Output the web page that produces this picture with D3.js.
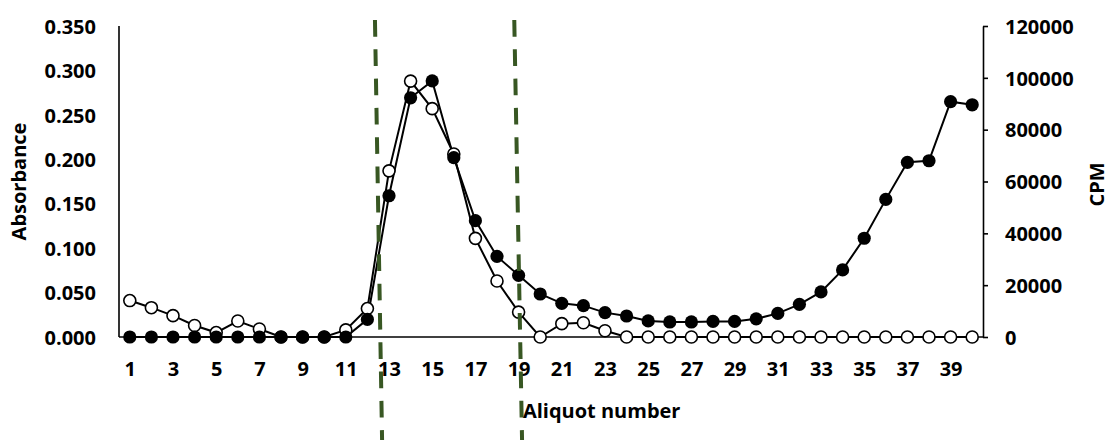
<!DOCTYPE html>
<html>
<head>
<meta charset="utf-8">
<script src="https://cdn.jsdelivr.net/npm/d3@7"></script>
<style>
  html, body { margin: 0; padding: 0; background: #fff; }
  svg text { font-family: "Open Sans", "Liberation Sans", sans-serif; font-weight: bold; fill: #000; }
</style>
</head>
<body>
<svg id="chart" width="1110" height="440"></svg>
<script>
// Aliquot numbers along the elution profile
const aliquots = [1, 2, 3, 4, 5, 6, 7, 8, 9, 10, 11, 12, 13, 14, 15, 16, 17, 18, 19, 20,
                  21, 22, 23, 24, 25, 26, 27, 28, 29, 30, 31, 32, 33, 34, 35, 36, 37, 38, 39, 40];

// Absorbance of each aliquot (open circles, left axis)
const absorbance = [0.041, 0.033, 0.024, 0.013, 0.005, 0.018, 0.009, 0.000, 0.000, 0.000,
                    0.008, 0.032, 0.187, 0.288, 0.257, 0.206, 0.111, 0.063, 0.028, 0.000,
                    0.015, 0.016, 0.007, 0.000, 0.000, 0.000, 0.000, 0.000, 0.000, 0.000,
                    0.000, 0.000, 0.000, 0.000, 0.000, 0.000, 0.000, 0.000, 0.000, 0.000];

// Radioactivity of each aliquot (filled circles, right axis)
const cpm = [0, 0, 0, 0, 0, 0, 0, 0, 0, 0,
             0, 6800, 54500, 92300, 98800, 69200, 44900, 31100, 23800, 16600,
             13000, 12100, 9400, 8100, 6200, 5800, 5800, 6000, 6000, 7000,
             9100, 12600, 17400, 25900, 38100, 53100, 67400, 68000, 90800, 89600];

// Axis tick values
const absTicks = [0, 0.05, 0.10, 0.15, 0.20, 0.25, 0.30, 0.35];
const cpmTicks = [0, 20000, 40000, 60000, 80000, 100000, 120000];
const xTicks = [1, 3, 5, 7, 9, 11, 13, 15, 17, 19, 21, 23, 25, 27, 29, 31, 33, 35, 37, 39];

// Pooled fraction boundaries (in aliquot units, at the top and bottom of the guide)
const poolTop = [12.35, 18.80];
const poolBottom = [12.68, 19.16];

const W = 1110, H = 440;
const margin = { top: 26, right: 127, bottom: 103, left: 119 };
const plotW = W - margin.left - margin.right;
const plotH = H - margin.top - margin.bottom;

const svg = d3.select("#chart");
const g = svg.append("g").attr("transform", `translate(${margin.left},${margin.top})`);

const x = d3.scaleLinear().domain([0.5, aliquots.length + 0.5]).range([0, plotW]);
const yAbs = d3.scaleLinear().domain([0, 0.35]).range([plotH, 0]);
const yCpm = d3.scaleLinear().domain([0, 120000]).range([plotH, 0]);

const FS = 20;

// Left axis: line only, labels set off to the left
const leftAxis = g.append("g")
  .call(d3.axisLeft(yAbs).tickValues(absTicks).tickFormat(d3.format(".3f")).tickSize(0).tickPadding(23));
leftAxis.select(".domain").attr("stroke", "#000").attr("stroke-width", 1.6).attr("d", `M0,0V${plotH}`);
leftAxis.selectAll("text").style("font-size", FS + "px").attr("dy", "0.36em");

// Right axis with outward ticks
const rightAxis = g.append("g").attr("transform", `translate(${plotW},0)`)
  .call(d3.axisRight(yCpm).tickValues(cpmTicks).tickFormat(d3.format("d")).tickSize(5).tickSizeOuter(0).tickPadding(17));
rightAxis.select(".domain").attr("stroke", "#000").attr("stroke-width", 1.6);
rightAxis.selectAll(".tick line").attr("stroke", "#000").attr("stroke-width", 1.6);
rightAxis.selectAll("text").style("font-size", FS + "px").attr("dy", "0.36em");

// Bottom axis
const bottomAxis = g.append("g").attr("transform", `translate(0,${plotH})`)
  .call(d3.axisBottom(x).tickValues(xTicks).tickFormat(d3.format("d")).tickSize(0).tickPadding(25));
bottomAxis.select(".domain").attr("stroke", "#000").attr("stroke-width", 1.6).attr("d", `M0,0H${plotW}`);
bottomAxis.selectAll("text").style("font-size", FS + "px").attr("dy", "0.71em");

// Axis titles
svg.append("text")
  .attr("transform", `translate(26,${margin.top + plotH / 2}) rotate(-90)`)
  .attr("text-anchor", "middle").style("font-size", FS + "px")
  .text("Absorbance");

svg.append("text")
  .attr("transform", `translate(1104,${margin.top + plotH / 2 + 3}) rotate(-90)`)
  .attr("text-anchor", "middle").style("font-size", FS + "px")
  .text("CPM");

svg.append("text")
  .attr("x", margin.left + x(19.2)).attr("y", 418)
  .attr("text-anchor", "start").style("font-size", FS + "px")
  .text("Aliquot number");

// Series lines
const absPts = aliquots.map((a, i) => [x(a), yAbs(absorbance[i])]);
const cpmPts = aliquots.map((a, i) => [x(a), yCpm(cpm[i])]);
const line = d3.line();

g.append("path").attr("d", line(absPts))
  .attr("fill", "none").attr("stroke", "#000").attr("stroke-width", 2);
g.append("path").attr("d", line(cpmPts))
  .attr("fill", "none").attr("stroke", "#000").attr("stroke-width", 2);

// Markers: open circles for absorbance, filled for CPM
g.append("g").selectAll("circle").data(absPts).join("circle")
  .attr("cx", d => d[0]).attr("cy", d => d[1]).attr("r", 6)
  .attr("fill", "#fff").attr("stroke", "#000").attr("stroke-width", 1.6);
g.append("g").selectAll("circle").data(cpmPts).join("circle")
  .attr("cx", d => d[0]).attr("cy", d => d[1]).attr("r", 6.6)
  .attr("fill", "#000");

// Dashed guides marking the pooled fractions
poolTop.forEach((t, i) => {
  g.append("line")
    .attr("x1", x(t)).attr("y1", -6)
    .attr("x2", x(poolBottom[i])).attr("y2", H - margin.top)
    .attr("stroke", "#385723").attr("stroke-width", 4)
    .attr("stroke-dasharray", "16.7 12.6");
});
</script>
</body>
</html>
